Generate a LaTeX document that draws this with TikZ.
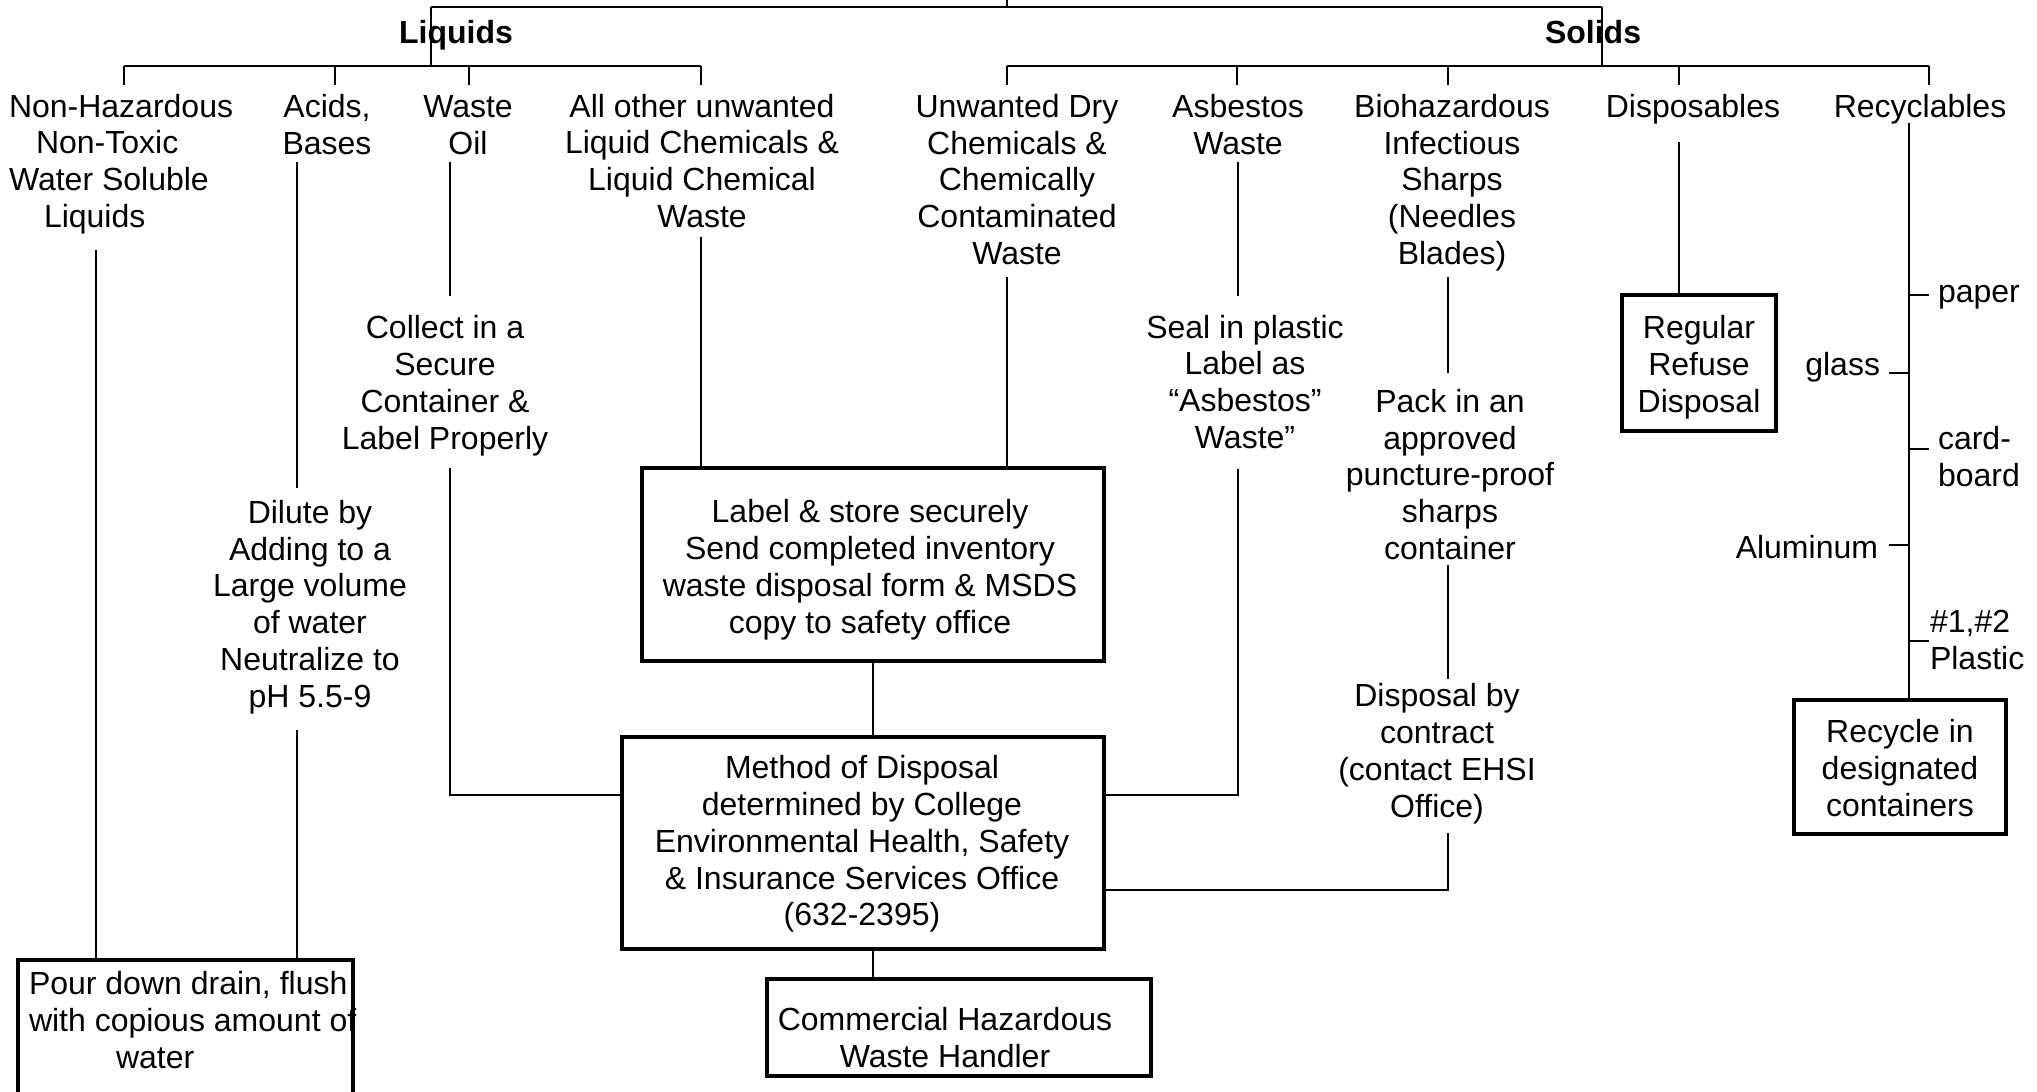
\documentclass[tikz,border=0pt]{standalone}
\usepackage{fontspec}
\setmainfont{Liberation Sans}
\newcommand{\myfs}{\fontsize{16bp}{18.4bp}\selectfont}
\newcommand{\mytab}[2]{\begin{tabular}{@{}#1@{}}#2\end{tabular}}
\begin{document}
\begin{tikzpicture}[x=0.5bp,y=-0.5bp,
  txt/.style={inner sep=0pt, outer sep=0pt, font=\myfs},
  boldtxt/.style={inner sep=0pt, outer sep=0pt, font=\myfs\bfseries},
  box/.style={draw, line width=1.65bp, inner sep=0pt, outer sep=0pt},
  thin/.style={line width=0.65bp},
  hdr/.style={line width=0.9bp},
  tick/.style={line width=0.8bp}]
\useasboundingbox (0,0) rectangle (2037,1091);
\fill[white] (0,0) rectangle (2037,1091);

% ---------- header texts
\node[boldtxt] (liq) at (456,36) {\mytab{c}{Liquids}};
\node[boldtxt] (sol) at (1593,36) {\mytab{c}{Solids}};

% ---------- categories
\node[txt,anchor=west] (nonhaz) at (9,165) {\mytab{l}{Non-Hazardous\\\hspace*{13.5bp}Non-Toxic\\Water Soluble\\\hspace*{17.5bp}Liquids}};
\node[txt] (acids) at (327,128.5) {\mytab{c}{Acids,\\Bases}};
\node[txt] (oil) at (468,128.5) {\mytab{c}{Waste\\Oil}};
\node[txt] (other) at (702,165) {\mytab{c}{All other unwanted\\Liquid Chemicals \&\\Liquid Chemical\\Waste}};
\node[txt] (dry) at (1017,183.5) {\mytab{c}{Unwanted Dry\\Chemicals \&\\Chemically\\Contaminated\\Waste}};
\node[txt] (asb) at (1238,128.5) {\mytab{c}{Asbestos\\Waste}};
\node[txt] (bio) at (1452,183.5) {\mytab{c}{Biohazardous\\Infectious\\Sharps\\(Needles\\Blades)}};
\node[txt] (disp) at (1693,110) {\mytab{c}{Disposables}};
\node[txt] (recy) at (1920,110) {\mytab{c}{Recyclables}};

% ---------- intermediate texts
\node[txt] (collect) at (445,386.5) {\mytab{c}{Collect in a\\Secure\\Container \&\\Label Properly}};
\node[txt] (dilute) at (310,608) {\mytab{c}{Dilute by\\Adding to a\\Large volume\\of water\\Neutralize to\\pH 5.5-9}};
\node[txt] (seal) at (1245,386) {\mytab{c}{Seal in plastic\\Label as\\“Asbestos”\\Waste”}};
\node[txt] (pack) at (1450,478.5) {\mytab{c}{Pack in an\\approved\\puncture-proof\\sharps\\container}};
\node[txt] (contract) at (1437,754.5) {\mytab{c}{Disposal by\\contract\\(contact EHSI\\Office)}};

% ---------- boxes
\node[box,minimum width=231bp,minimum height=96.5bp] (labelbox) at (873,564.5) {};
\node[txt] (labeltxt) at (870,570.5) {\mytab{c}{Label \& store securely\\Send completed inventory\\waste disposal form \& MSDS\\copy to safety office}};

\node[box,minimum width=241bp,minimum height=106bp] (method) at (863,843) {};
\node[txt] (methodtxt) at (862,845) {\mytab{c}{Method of Disposal\\determined by College\\Environmental Health, Safety\\\& Insurance Services Office\\(632-2395)}};

\node[box,minimum width=192bp,minimum height=48.5bp] (comm) at (959,1027.5) {};
\node[txt] (commtxt) at (945,1042) {\mytab{c}{Commercial Hazardous\\Waste Handler}};

\node[box,minimum width=167.5bp,minimum height=75bp] (pour) at (185.5,1035) {};
\node[txt,anchor=west] (pourtxt) at (29,1024) {\mytab{l}{Pour down drain, flush\\with copious amount of\\\hspace*{43.5bp}water}};

\node[box,minimum width=77bp,minimum height=68bp] (refuse) at (1699,363) {};
\node[txt] (refusetxt) at (1699,368) {\mytab{c}{Regular\\Refuse\\Disposal}};

\node[box,minimum width=106bp,minimum height=67bp] (recycle) at (1900,767) {};
\node[txt] (recycletxt) at (1900,772) {\mytab{c}{Recycle in\\designated\\containers}};

% ---------- recyclable items
\node[txt,anchor=west] (paper) at (1938,295) {\mytab{l}{paper}};
\node[txt,anchor=east] (glass) at (1880,368) {\mytab{l}{glass}};
\node[txt,anchor=west] (card) at (1938,460.5) {\mytab{l}{card-\\board}};
\node[txt,anchor=east] (alu) at (1878,551) {\mytab{l}{Aluminum}};
\node[txt,anchor=west] (plastic) at (1930,644) {\mytab{l}{\#1,\#2\\Plastic}};

% ---------- header connectors
\coordinate (top) at (1007,0);
\coordinate (topj) at (1007,7);
\coordinate (lt) at (431,7);
\coordinate (st) at (1602,7);
\coordinate (lj) at (431,66);
\coordinate (sj) at (1602,66);
\draw[hdr] (top) -- (topj);
\draw[hdr] (lt) -- (st);
\draw[hdr] (lt) -- (lj);
\draw[hdr] (st) -- (sj);

\coordinate (lbA) at (124,66);
\coordinate (lbB) at (701,66);
\draw[hdr] (lbA) -- (lbB);
\foreach \x [count=\i] in {124,335,469,701}{
  \coordinate (ltk\i a) at (\x,66);
  \coordinate (ltk\i b) at (\x,85);
  \draw[hdr] (ltk\i a) -- (ltk\i b);
}
\coordinate (sbA) at (1007,66);
\coordinate (sbB) at (1929,66);
\draw[hdr] (sbA) -- (sbB);
\foreach \x [count=\i] in {1007,1237,1448,1679,1929}{
  \coordinate (stk\i a) at (\x,66);
  \coordinate (stk\i b) at (\x,85);
  \draw[hdr] (stk\i a) -- (stk\i b);
}

% ---------- liquids connectors
\coordinate (nh1) at (96,250);
\draw[thin] (nh1) -- (nh1 |- pour.north);

\coordinate (ac1) at (297,162);
\coordinate (ac2) at (297,488);
\coordinate (ac3) at (297,730);
\draw[thin] (ac1) -- (ac2);
\draw[thin] (ac3) -- (ac3 |- pour.north);

\coordinate (oi1) at (450,162);
\coordinate (oi2) at (450,296);
\coordinate (oi3) at (450,468);
\coordinate (oi4) at (450,795);
\draw[thin] (oi1) -- (oi2);
\draw[thin] (oi3) -- (oi4) -- (oi4 -| method.west);

\coordinate (ot1) at (701,237);
\draw[thin] (ot1) -- (ot1 |- labelbox.north);

\coordinate (dr1) at (1007,277);
\draw[thin] (dr1) -- (dr1 |- labelbox.north);

\draw[thin] (labelbox.south) -- (labelbox.south |- method.north);
\draw[thin] (method.south -| labelbox.south) -- (comm.north -| labelbox.south);

% ---------- solids connectors
\coordinate (as1) at (1238,162);
\coordinate (as2) at (1238,296);
\coordinate (as3) at (1238,469);
\coordinate (as4) at (1238,795);
\draw[thin] (as1) -- (as2);
\draw[thin] (as3) -- (as4) -- (as4 -| method.east);

\coordinate (bi1) at (1448,277);
\coordinate (bi2) at (1448,373);
\coordinate (bi3) at (1448,565);
\coordinate (bi4) at (1448,679);
\coordinate (bi5) at (1448,833);
\coordinate (bi6) at (1448,890);
\draw[thin] (bi1) -- (bi2);
\draw[thin] (bi3) -- (bi4);
\draw[thin] (bi5) -- (bi6) -- (bi6 -| method.east);

\coordinate (di1) at (1679,142);
\draw[thin] (di1) -- (di1 |- refuse.north);

\coordinate (re1) at (1909,123);
\draw[tick] (re1) -- (re1 |- recycle.north);

% recyclable ticks
\coordinate (rpA) at (1909,295); \coordinate (rpB) at (1929,295);
\coordinate (rgA) at (1889,373); \coordinate (rgB) at (1909,373);
\coordinate (rcA) at (1909,449); \coordinate (rcB) at (1929,449);
\coordinate (raA) at (1889,545); \coordinate (raB) at (1909,545);
\coordinate (rlA) at (1909,641); \coordinate (rlB) at (1929,641);
\draw[tick] (rpA) -- (rpB);
\draw[tick] (rgA) -- (rgB);
\draw[tick] (rcA) -- (rcB);
\draw[tick] (raA) -- (raB);
\draw[tick] (rlA) -- (rlB);
\end{tikzpicture}
\end{document}
